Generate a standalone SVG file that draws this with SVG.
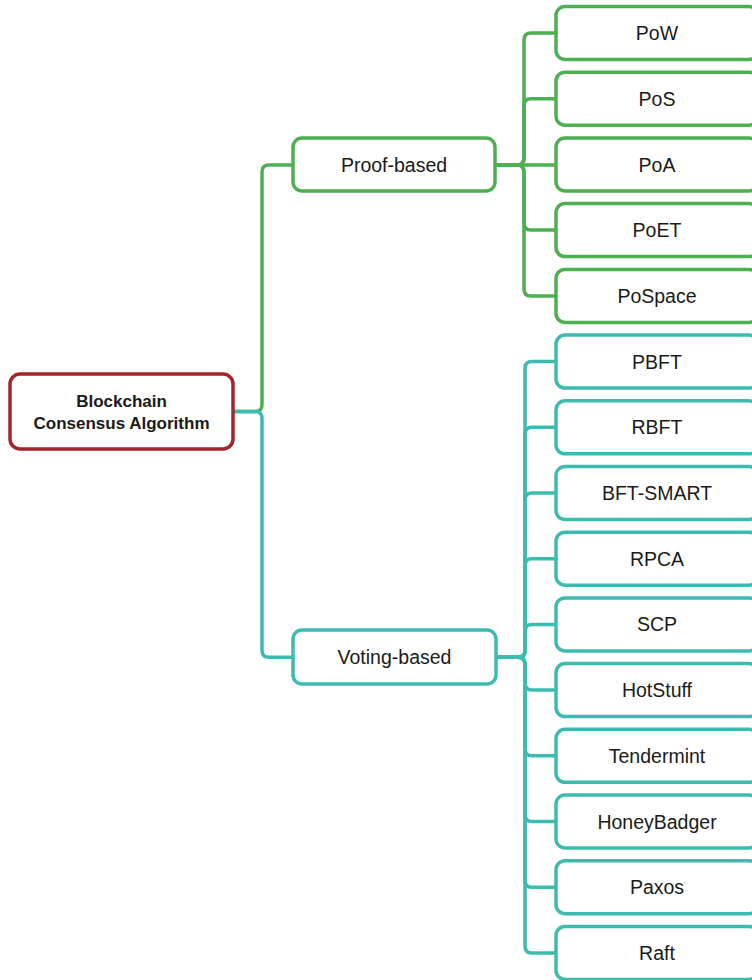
<svg xmlns="http://www.w3.org/2000/svg" width="752" height="980" viewBox="0 0 752 980">
<style>
.box{fill:#fff;stroke-width:3.5}
.g{stroke:#4cb050}
.t{stroke:#3cbcb0}
.root{stroke:#a3262a}
.c{fill:none;stroke-width:3.5;stroke-linecap:round;stroke-linejoin:round}
text{font-family:"Liberation Sans",Arial,sans-serif;fill:#1a1a1a;text-anchor:middle}
.lt{font-size:19.5px}
.rt{font-size:17px;font-weight:bold}
</style>
<rect width="752" height="980" fill="#fff"/>
<g id="connectors">
<path class="c g" d="M233,411.5 H255 Q262,411.5 262,404.5 V172 Q262,165 269,165 H293"/>
<path class="c t" d="M233,411.5 H255 Q262,411.5 262,418.5 V650.3 Q262,657.3 269,657.3 H293"/>
<g class="g">
<path class="c" d="M495,165 H517 Q524,165 524,158 V40 Q524,33 531,33 H556"/>
<path class="c" d="M495,165 H517 Q524,165 524,158 V105.7 Q524,98.7 531,98.7 H556"/>
<path class="c" d="M495,165 H556"/>
<path class="c" d="M495,165 H517 Q524,165 524,172 V223.1 Q524,230.1 531,230.1 H556"/>
<path class="c" d="M495,165 H517 Q524,165 524,172 V288.9 Q524,295.9 531,295.9 H556"/>
</g>
<g class="t">
<path class="c" d="M496,657.3 H518 Q525,657.3 525,650.3 V368.6 Q525,361.6 532,361.6 H556"/>
<path class="c" d="M496,657.3 H518 Q525,657.3 525,650.3 V434.3 Q525,427.3 532,427.3 H556"/>
<path class="c" d="M496,657.3 H518 Q525,657.3 525,650.3 V500 Q525,493 532,493 H556"/>
<path class="c" d="M496,657.3 H518 Q525,657.3 525,650.3 V565.7 Q525,558.7 532,558.7 H556"/>
<path class="c" d="M496,657.3 H518 Q525,657.3 525,650.3 V631.4 Q525,624.4 532,624.4 H556"/>
<path class="c" d="M496,657.3 H518 Q525,657.3 525,664.3 V683.1 Q525,690.1 532,690.1 H556"/>
<path class="c" d="M496,657.3 H518 Q525,657.3 525,664.3 V748.8 Q525,755.8 532,755.8 H556"/>
<path class="c" d="M496,657.3 H518 Q525,657.3 525,664.3 V814.5 Q525,821.5 532,821.5 H556"/>
<path class="c" d="M496,657.3 H518 Q525,657.3 525,664.3 V880.2 Q525,887.2 532,887.2 H556"/>
<path class="c" d="M496,657.3 H518 Q525,657.3 525,664.3 V945.9 Q525,952.9 532,952.9 H556"/>
</g>
</g>
<g id="root">
<rect class="box root" x="10" y="374" width="223" height="75" rx="10"/>
<text class="rt" x="121.5" y="407">Blockchain</text>
<text class="rt" x="121.5" y="429">Consensus Algorithm</text>
</g>
<g id="proof-based">
<rect class="box g" x="293" y="138" width="202" height="53" rx="9"/>
<text class="lt" x="394" y="172">Proof-based</text>
</g>
<g id="voting-based">
<rect class="box t" x="293" y="630" width="203" height="54" rx="9"/>
<text class="lt" x="394.5" y="664.3">Voting-based</text>
</g>
<g id="pow"><rect class="box g" x="556" y="6.5" width="202" height="53" rx="9"/><text class="lt" x="657" y="40">PoW</text></g>
<g id="pos"><rect class="box g" x="556" y="72.2" width="202" height="53" rx="9"/><text class="lt" x="657" y="105.7">PoS</text></g>
<g id="poa"><rect class="box g" x="556" y="138" width="202" height="53" rx="9"/><text class="lt" x="657" y="172">PoA</text></g>
<g id="poet"><rect class="box g" x="556" y="203.6" width="202" height="53" rx="9"/><text class="lt" x="657" y="237.1">PoET</text></g>
<g id="pospace"><rect class="box g" x="556" y="269.4" width="202" height="53" rx="9"/><text class="lt" x="657" y="302.9">PoSpace</text></g>
<g id="pbft"><rect class="box t" x="556" y="335.1" width="202" height="53" rx="9"/><text class="lt" x="657" y="368.6">PBFT</text></g>
<g id="rbft"><rect class="box t" x="556" y="400.8" width="202" height="53" rx="9"/><text class="lt" x="657" y="434.3">RBFT</text></g>
<g id="bft-smart"><rect class="box t" x="556" y="466.5" width="202" height="53" rx="9"/><text class="lt" x="657" y="500">BFT-SMART</text></g>
<g id="rpca"><rect class="box t" x="556" y="532.2" width="202" height="53" rx="9"/><text class="lt" x="657" y="565.7">RPCA</text></g>
<g id="scp"><rect class="box t" x="556" y="597.9" width="202" height="53" rx="9"/><text class="lt" x="657" y="631.4">SCP</text></g>
<g id="hotstuff"><rect class="box t" x="556" y="663.6" width="202" height="53" rx="9"/><text class="lt" x="657" y="697.1">HotStuff</text></g>
<g id="tendermint"><rect class="box t" x="556" y="729.3" width="202" height="53" rx="9"/><text class="lt" x="657" y="762.8">Tendermint</text></g>
<g id="honeybadger"><rect class="box t" x="556" y="795" width="202" height="53" rx="9"/><text class="lt" x="657" y="828.5">HoneyBadger</text></g>
<g id="paxos"><rect class="box t" x="556" y="860.7" width="202" height="53" rx="9"/><text class="lt" x="657" y="894.2">Paxos</text></g>
<g id="raft"><rect class="box t" x="556" y="926.4" width="202" height="53" rx="9"/><text class="lt" x="657" y="959.9">Raft</text></g>
</svg>
